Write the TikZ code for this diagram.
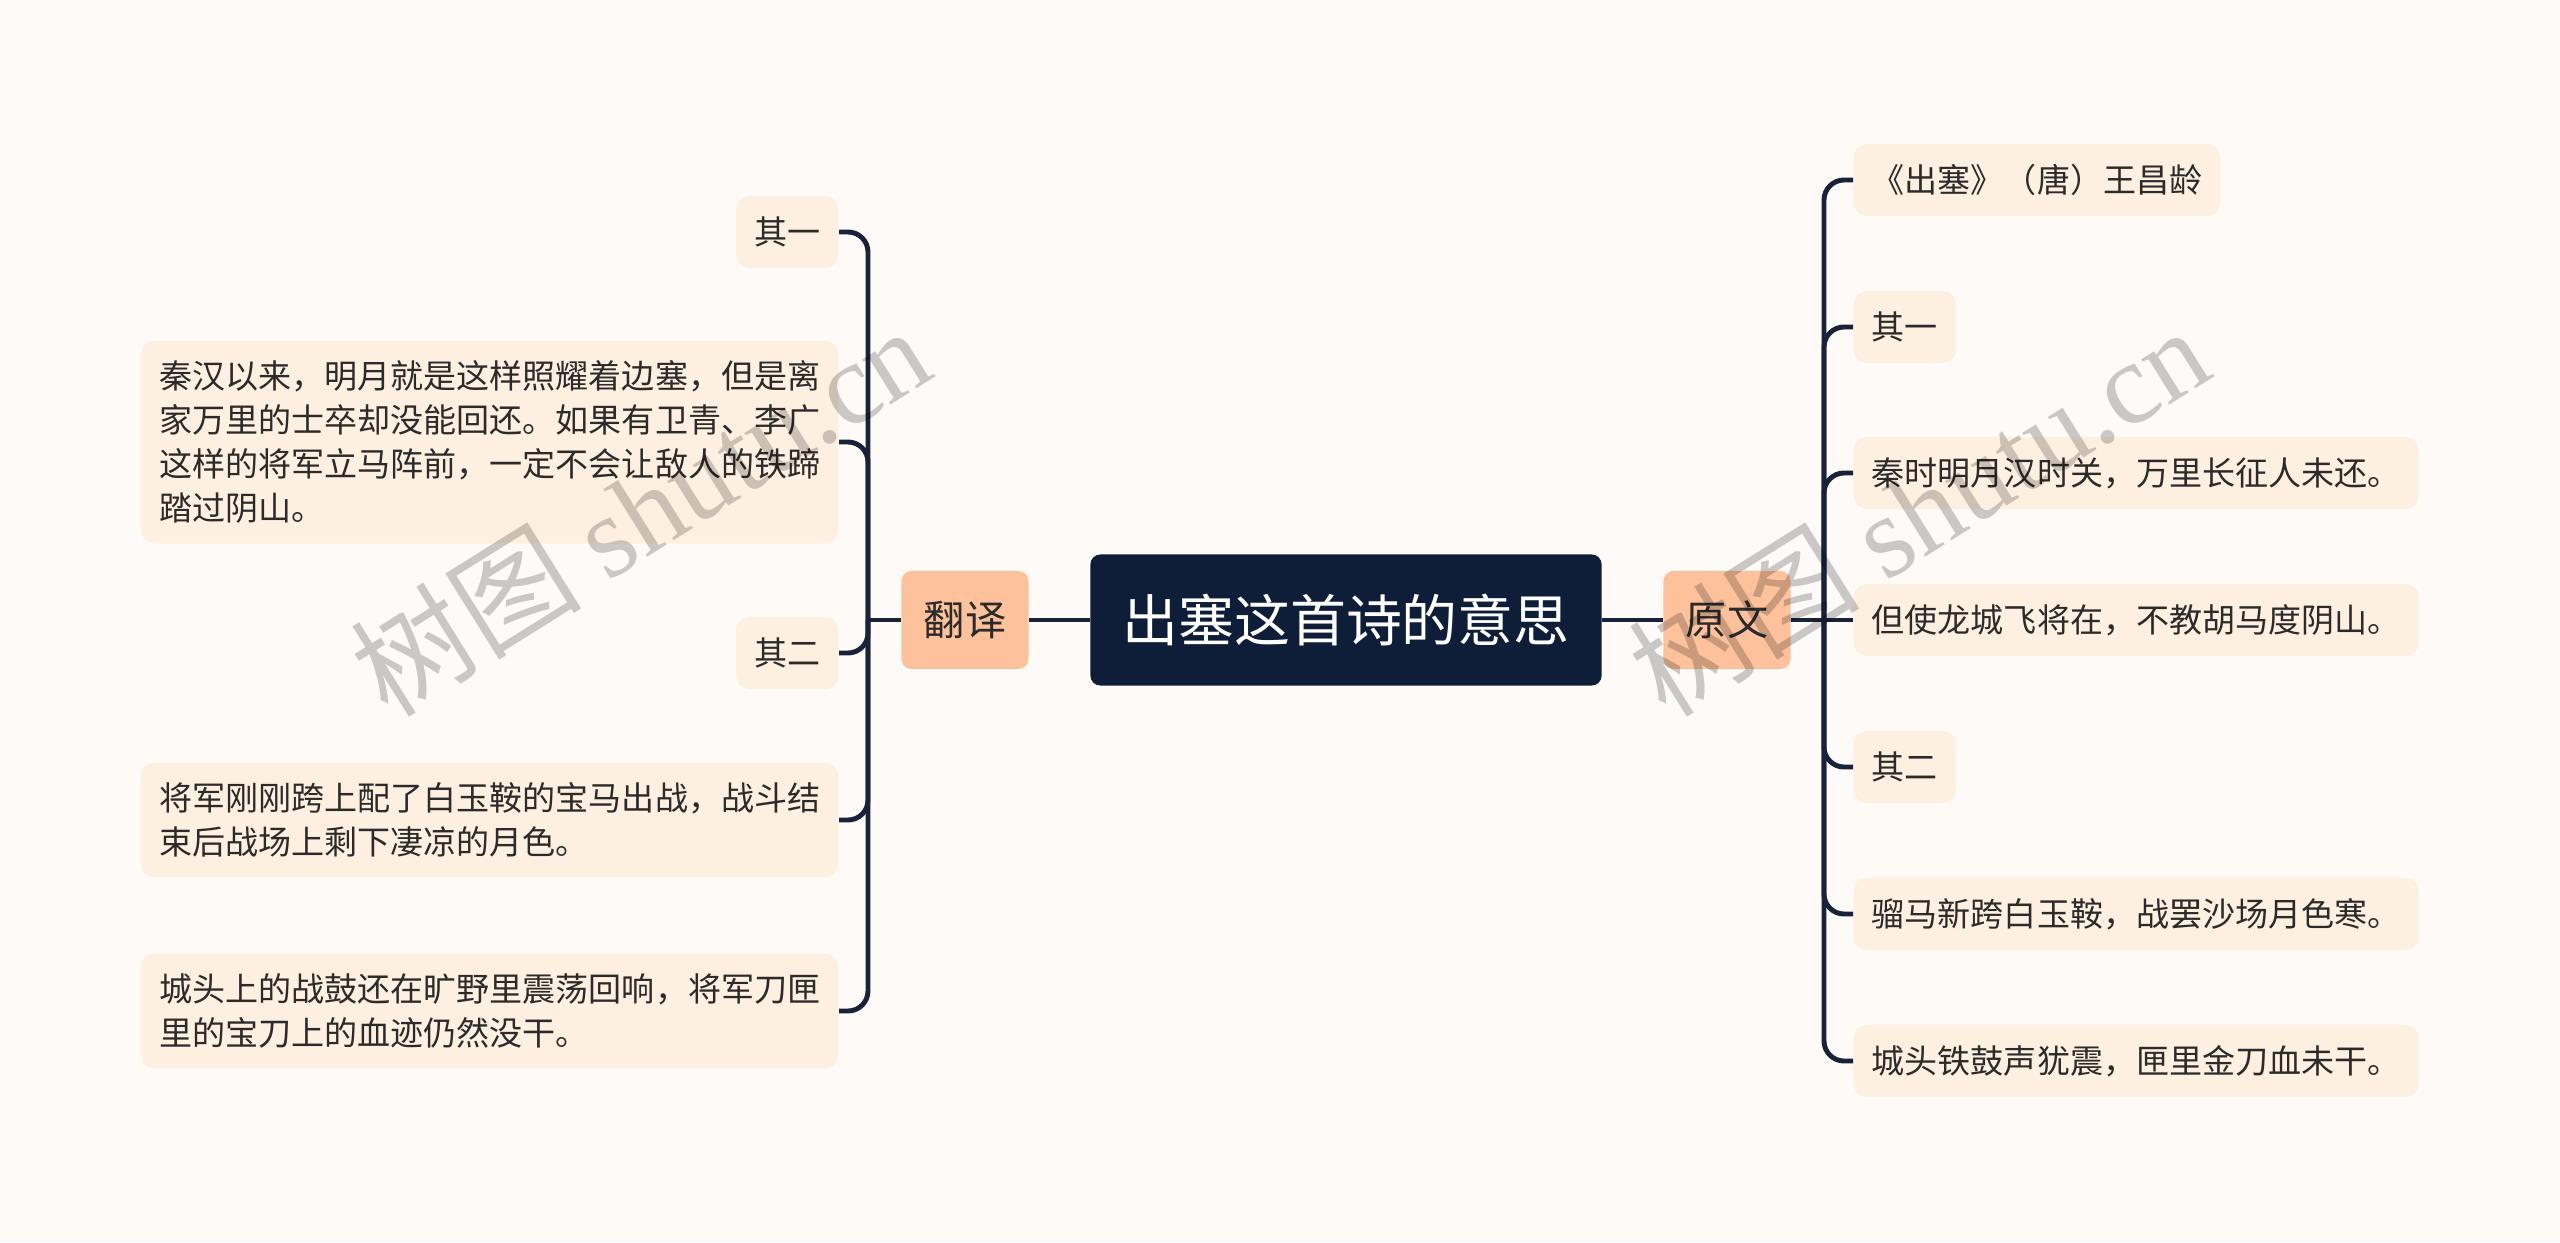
\documentclass[tikz,border=0pt]{standalone}
\usepackage{fontspec}
\setmainfont{Noto Sans CJK SC}
\newfontfamily\wmlatin{Liberation Serif}
\definecolor{bgc}{HTML}{FDFAF8}
\definecolor{rootc}{HTML}{0E1E38}
\definecolor{topicc}{HTML}{FDC19C}
\definecolor{leafc}{HTML}{FEF0E0}
\definecolor{linec}{HTML}{18233A}
\definecolor{txtc}{HTML}{2B2B2B}

\begin{document}
\begin{tikzpicture}[x=0.01cm,y=-0.01cm]
                \tikzset{root/.style = {fill=rootc,rounded corners=0.1cm,text=white,font=\fontsize{15.9}{19}\selectfont,minimum width=5.11cm,minimum height=1.31cm,inner sep=0pt}}
                \tikzset{topic/.style = {fill=topicc,rounded corners=0.1cm,text=txtc,font=\fontsize{11.7}{14}\selectfont,minimum width=1.27cm,minimum height=0.98cm,inner sep=0pt}}
                \tikzset{leaf/.style = {fill=leafc,rounded corners=0.13cm,text=txtc,font=\fontsize{9.4}{12.5}\selectfont,inner xsep=0.18cm,inner ysep=0.2cm,minimum height=0.72cm,align=left}}
                \tikzset{branch/.style = {draw=linec,line width=1.4pt,rounded corners=0.2cm}}
                \tikzset{wmark/.style = {text=black,opacity=0.2,font=\fontsize{33}{36}\selectfont,rotate=32}}

                \fill[bgc] (0,0) rectangle (2560,1242);
                \useasboundingbox (0,0) rectangle (2560,1242);

                \node[root] (c) at (1346,620) {出塞这首诗的意思};
                \node[topic] (yw) at (1727,620) {原文};
                \node[topic] (fy) at (965,620) {翻译};

                \node[leaf,anchor=west] (r1) at (1853,180) {《出塞》（唐）王昌龄};
                \node[leaf,anchor=west] (r2) at (1853,327) {其一};
                \node[leaf,anchor=west] (r3) at (1853,473) {秦时明月汉时关，万里长征人未还。};
                \node[leaf,anchor=west] (r4) at (1853,620) {但使龙城飞将在，不教胡马度阴山。};
                \node[leaf,anchor=west] (r5) at (1853,767) {其二};
                \node[leaf,anchor=west] (r6) at (1853,914) {骝马新跨白玉鞍，战罢沙场月色寒。};
                \node[leaf,anchor=west] (r7) at (1853,1061) {城头铁鼓声犹震，匣里金刀血未干。};

                \node[leaf,anchor=east] (l1) at (839,232) {其一};
                \node[leaf,anchor=east] (l2) at (839,442) {秦汉以来，明月就是这样照耀着边塞，但是离\\家万里的士卒却没能回还。如果有卫青、李广\\这样的将军立马阵前，一定不会让敌人的铁蹄\\踏过阴山。};
                \node[leaf,anchor=east] (l3) at (839,653) {其二};
                \node[leaf,anchor=east] (l4) at (839,820) {将军刚刚跨上配了白玉鞍的宝马出战，战斗结\\束后战场上剩下凄凉的月色。};
                \node[leaf,anchor=east] (l5) at (839,1011) {城头上的战鼓还在旷野里震荡回响，将军刀匣\\里的宝刀上的血迹仍然没干。};

                \coordinate (rj) at (1824,620);
                \coordinate (lj) at (868,620);

                \draw[branch] (c) -- (yw);
                \draw[branch] (c) -- (fy);
                \draw[branch] (yw) -- (r4);
                \draw[branch] (fy) -- (lj);
                \foreach \n in {r1,r2,r3,r5,r6,r7}
                    \draw[branch] (rj) |- (\n.west);
                \foreach \n in {l1,l2,l3,l4,l5}
                    \draw[branch] (lj) |- (\n.east);

                \node[wmark] (wm1) at (640,510) {树图 {\wmlatin shutu.cn}};
                \node[wmark] (wm2) at (1918,510) {树图 {\wmlatin shutu.cn}};

        \end{tikzpicture}
\end{document}
